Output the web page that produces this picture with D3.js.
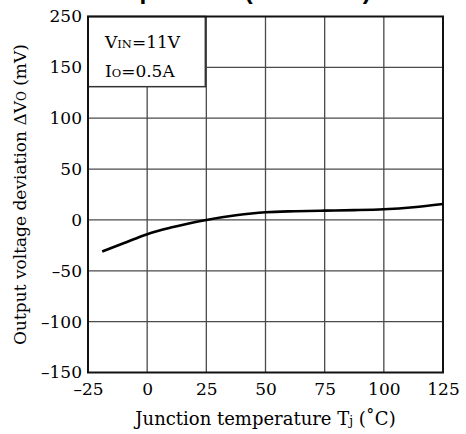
<!DOCTYPE html>
<html>
<head>
<meta charset="utf-8">
<script src="https://cdn.jsdelivr.net/npm/d3@7"></script>
<style>
  html, body { margin: 0; padding: 0; background: #fff; }
  svg { display: block; }
</style>
</head>
<body>
<svg id="chart" width="466" height="434"></svg>
<script>
// ---- data ----
const xTicks = [-25, 0, 25, 50, 75, 100, 125];
const xTickLabels = ["\u201325", "0", "25", "50", "75", "100", "125"];
const yTicks = [200, 150, 100, 50, 0, -50, -100, -150];
const yTickLabels = ["250", "150", "100", "50", "0", "\u201350", "\u2013100", "\u2013150"];
const temps     = [-19, -10,  0,  10, 25, 37.5, 50, 62.5, 75, 87.5, 100, 112.5, 125];
const deviation = [-31, -23, -14, -7.5, 0, 4.6, 7.6, 8.6, 9.1, 9.6, 10.5, 12.5, 15.7];
const vGrid = [0, 25, 50, 75, 100];
const hGrid = [150, 100, 50, 0, -50, -100];

const svg = d3.select("#chart");
const x = d3.scaleLinear().domain([-25, 125]).range([88, 443]);
const y = d3.scaleLinear().domain([-150, 200]).range([372.5, 16.5]);

const serif = "'DejaVu Serif', serif";
const gridColor = "#4a4a4a";

// title (mostly clipped at top, as in the reference)
svg.append("text")
  .attr("x", 91).attr("y", -0.8)
  .attr("font-family", "'Liberation Sans', Arial, sans-serif")
  .attr("font-weight", "bold").attr("font-size", 24.5)
  .text("Temperature (Deviation)");

// grid
svg.append("g").selectAll("line").data(vGrid).join("line")
  .attr("x1", d => x(d)).attr("x2", d => x(d))
  .attr("y1", y(200)).attr("y2", y(-150))
  .attr("stroke", gridColor).attr("stroke-width", 1.3);
svg.append("g").selectAll("line").data(hGrid).join("line")
  .attr("x1", x(-25)).attr("x2", x(125))
  .attr("y1", d => y(d)).attr("y2", d => y(d))
  .attr("stroke", gridColor).attr("stroke-width", 1.3);

// legend box
svg.append("rect")
  .attr("x", x(-25)).attr("y", y(200))
  .attr("width", x(25) - x(-25) - 1).attr("height", y(131) - y(200))
  .attr("fill", "#fff").attr("stroke", "#333").attr("stroke-width", 1.5);

const leg = svg.append("g").attr("font-family", serif).attr("fill", "#000");
const t1 = leg.append("text").attr("x", 105).attr("y", 48).attr("font-size", 17);
t1.append("tspan").text("V");
t1.append("tspan").attr("font-size", 11.5).text("IN");
t1.append("tspan").text("=11V");
const t2 = leg.append("text").attr("x", 105).attr("y", 77).attr("font-size", 17);
t2.append("tspan").text("I");
t2.append("tspan").attr("font-size", 11.5).text("O");
t2.append("tspan").text("=0.5A");

// frame
svg.append("rect")
  .attr("x", x(-25)).attr("y", y(200))
  .attr("width", x(125) - x(-25)).attr("height", y(-150) - y(200))
  .attr("fill", "none").attr("stroke", "#111").attr("stroke-width", 2);

// axes via d3 axis generators (labels only)
const xAxis = d3.axisBottom(x).tickValues(xTicks)
  .tickFormat((d, i) => xTickLabels[i]).tickSize(0).tickPadding(10);
const gx = svg.append("g").attr("transform", `translate(0,${y(-150)})`).call(xAxis);
gx.select(".domain").remove();
gx.selectAll("text").attr("font-family", serif).attr("font-size", 17).attr("fill", "#000");

const yAxis = d3.axisLeft(y).tickValues(yTicks)
  .tickFormat((d, i) => yTickLabels[i]).tickSize(0).tickPadding(6);
const gy = svg.append("g").attr("transform", `translate(${x(-25)},0)`).call(yAxis);
gy.select(".domain").remove();
gy.selectAll("text").attr("font-family", serif).attr("font-size", 17).attr("fill", "#000");

// curve
const pts = temps.map((t, i) => [t, deviation[i]]);
svg.append("path")
  .datum(pts)
  .attr("fill", "none").attr("stroke", "#000").attr("stroke-width", 2.6)
  .attr("d", d3.line().x(d => x(d[0])).y(d => y(d[1])).curve(d3.curveMonotoneX));

// axis titles
const xl = svg.append("text")
  .attr("x", (x(-25) + x(125)) / 2).attr("y", 425)
  .attr("text-anchor", "middle").attr("font-family", serif).attr("font-size", 18).attr("fill", "#000");
xl.append("tspan").text("Junction temperature T");
xl.append("tspan").attr("font-size", 12.5).text("j");
xl.append("tspan").text(" (\u02DAC)");

const yl = svg.append("text")
  .attr("transform", `translate(26,${(y(200) + y(-150)) / 2}) rotate(-90)`)
  .attr("text-anchor", "middle").attr("font-family", serif).attr("font-size", 17).attr("fill", "#000");
yl.append("tspan").text("Output voltage deviation \u0394V");
yl.append("tspan").attr("font-size", 12).text("O");
yl.append("tspan").text(" (mV)");
</script>
</body>
</html>
